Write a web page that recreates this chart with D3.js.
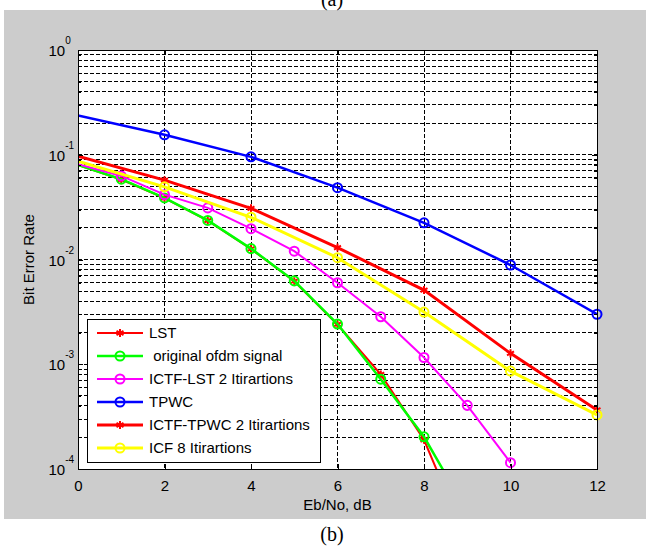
<!DOCTYPE html>
<html lang="en">
<head>
<meta charset="UTF-8">
<title>BER</title>
<script src="https://cdn.jsdelivr.net/npm/d3@7/dist/d3.min.js"></script>
<style>
  body { margin: 0; background: #fff; }
  text { font-family: "Liberation Sans", Arial, sans-serif; }
</style>
</head>
<body>
<script>
// Eb/No points (dB)
var ebnoUnit = [0, 1, 2, 3, 4, 5, 6, 7, 8, 9, 10];
var ebnoEven = [0, 2, 4, 6, 8, 10, 12];

// BER values
var lst      = [0.080, 0.058, 0.0385, 0.0235, 0.0126, 0.0062, 0.0024, 0.00080, 0.00019, 0.00002];
var ofdm     = [0.080, 0.0584, 0.0387, 0.0236, 0.0127, 0.00625, 0.00242, 0.00072, 0.000203, 0.000039];
var ictfLst  = [0.081, 0.0628, 0.0416, 0.0311, 0.0197, 0.0120, 0.0060, 0.00284, 0.00116, 0.000405, 0.000115];
var tpwc     = [0.237, 0.155, 0.0955, 0.0485, 0.0224, 0.00886, 0.0030];
var ictfTpwc = [0.097, 0.0572, 0.0308, 0.0130, 0.00511, 0.00127, 0.000366];
var icf8     = [0.087, 0.0494, 0.0253, 0.0104, 0.00315, 0.00086, 0.000328];

var xTicks = [0, 2, 4, 6, 8, 10, 12];
var yExp = [0, -1, -2, -3, -4];

var series = [
  {name: "LST", xs: ebnoUnit, ys: lst, color: "#ff0000", width: 2, marker: "star"},
  {name: " original ofdm signal", xs: ebnoUnit, ys: ofdm, color: "#00ff00", width: 2.5, marker: "circle"},
  {name: "ICTF-LST 2 Itirartions", xs: ebnoUnit, ys: ictfLst, color: "#ff00ff", width: 2, marker: "circle"},
  {name: "TPWC", xs: ebnoEven, ys: tpwc, color: "#0000ff", width: 2.5, marker: "circle"},
  {name: "ICTF-TPWC 2 Itirartions", xs: ebnoEven, ys: ictfTpwc, color: "#ff0000", width: 3, marker: "star"},
  {name: "ICF 8 Itirartions", xs: ebnoEven, ys: icf8, color: "#ffff00", width: 3, marker: "circle"}
];

var W = 646, H = 547;
var L = 78, R = 597, T = 50, B = 469;

var svg = d3.select("body").append("svg")
  .attr("width", W).attr("height", H);

// figure background
svg.append("rect").attr("x", 4).attr("y", 10).attr("width", W - 4).attr("height", 509)
  .attr("fill", "#cccccc");

svg.append("text").attr("x", 332).attr("y", 6).attr("text-anchor", "middle")
  .style("font-family", "'Liberation Serif', 'Times New Roman', serif")
  .style("font-size", "20px").text("(a)");
svg.append("text").attr("x", 332).attr("y", 541).attr("text-anchor", "middle")
  .style("font-family", "'Liberation Serif', 'Times New Roman', serif")
  .style("font-size", "20px").text("(b)");

var x = d3.scaleLinear().domain([0, 12]).range([L, R]);
var y = d3.scaleLog().domain([1e-4, 1]).range([B, T]);

svg.append("rect").attr("x", L).attr("y", T).attr("width", R - L).attr("height", B - T)
  .attr("fill", "#fff");

// grid
var minorVals = [];
for (var e = -4; e < 0; e++) {
  for (var k = 1; k < 10; k++) {
    if (!(e === -4 && k === 1)) minorVals.push(k * Math.pow(10, e));
  }
}
var grid = svg.append("g").attr("stroke", "#000").attr("stroke-width", 1)
  .attr("stroke-dasharray", "4,2").attr("shape-rendering", "crispEdges");
grid.selectAll("line.h").data(minorVals).enter().append("line")
  .attr("x1", L).attr("x2", R)
  .attr("y1", function (d) { return y(d); }).attr("y2", function (d) { return y(d); });
grid.selectAll("line.v").data(xTicks.slice(1, -1)).enter().append("line")
  .attr("y1", T).attr("y2", B)
  .attr("x1", function (d) { return x(d); }).attr("x2", function (d) { return x(d); });

// clip for lines
svg.append("clipPath").attr("id", "clip").append("rect")
  .attr("x", L).attr("y", T).attr("width", R - L).attr("height", B - T);

var line = d3.line()
  .x(function (d) { return x(d[0]); })
  .y(function (d) { return y(d[1]); });

var star = d3.symbol().type(d3.symbolAsterisk).size(45);
var circ = d3.symbol().type(d3.symbolCircle).size(64);

series.forEach(function (s) {
  var pts = s.ys.map(function (v, i) { return [s.xs[i], v]; });
  svg.append("path").datum(pts)
    .attr("clip-path", "url(#clip)")
    .attr("fill", "none").attr("stroke", s.color).attr("stroke-width", s.width)
    .attr("d", line);
  var mk = pts.filter(function (p, i) { return i > 0 && p[1] >= 1e-4; });
  svg.append("g").selectAll("path").data(mk).enter().append("path")
    .attr("transform", function (d) { return "translate(" + x(d[0]) + "," + y(d[1]) + ")"; })
    .attr("d", s.marker === "star" ? star : circ)
    .attr("fill", "none").attr("stroke", s.color)
    .attr("stroke-width", 2);
});

// axes box and ticks
var ax = svg.append("g").attr("shape-rendering", "crispEdges");
ax.append("g").attr("transform", "translate(0," + B + ")")
  .call(d3.axisBottom(x).tickValues(xTicks).tickSize(-5).tickPadding(11).tickFormat(d3.format("d")));
ax.append("g").attr("transform", "translate(0," + T + ")")
  .call(d3.axisTop(x).tickValues(xTicks).tickSize(-5).tickFormat(""));
var yMajor = yExp.map(function (p) { return Math.pow(10, p); });
ax.append("g").attr("transform", "translate(" + L + ",0)")
  .call(d3.axisLeft(y).tickValues(yMajor).tickSize(-5).tickFormat(""));
ax.append("g").attr("transform", "translate(" + R + ",0)")
  .call(d3.axisRight(y).tickValues(yMajor).tickSize(-5).tickFormat(""));
ax.append("g").attr("transform", "translate(" + L + ",0)")
  .call(d3.axisLeft(y).tickValues(minorVals).tickSize(-3).tickFormat(""));
ax.append("g").attr("transform", "translate(" + R + ",0)")
  .call(d3.axisRight(y).tickValues(minorVals).tickSize(-3).tickFormat(""));
ax.selectAll(".domain").remove();
ax.selectAll("text").style("font-size", "15px").attr("fill", "#000")
  .style("font-family", "'Liberation Sans', Arial, sans-serif");
ax.append("rect").attr("x", L).attr("y", T).attr("width", R - L).attr("height", B - T)
  .attr("fill", "none").attr("stroke", "#000");

// y tick labels 10^n
var yl = svg.append("g");
yExp.forEach(function (p) {
  var t = yl.append("text").attr("x", 48.5).attr("y", y(Math.pow(10, p)) + 6)
    .style("font-size", "15px");
  t.append("tspan").text("10");
  t.append("tspan").attr("dy", -12).style("font-size", "10px").text(p);
});

svg.append("text").attr("x", (L + R) / 2).attr("y", 510).attr("text-anchor", "middle")
  .style("font-size", "15px").text("Eb/No, dB");
svg.append("text").attr("transform", "translate(34," + (T + B) / 2 + ") rotate(-90)")
  .attr("text-anchor", "middle").style("font-size", "15px").text("Bit Error Rate");

// legend
var lg = svg.append("g");
lg.append("rect").attr("x", 87).attr("y", 319).attr("width", 233).attr("height", 143)
  .attr("fill", "#fff").attr("stroke", "#000").attr("shape-rendering", "crispEdges");
series.forEach(function (s, i) {
  var ly = 333 + i * 23;
  lg.append("line").attr("x1", 97).attr("x2", 143).attr("y1", ly).attr("y2", ly)
    .attr("stroke", s.color).attr("stroke-width", s.width);
  lg.append("path").attr("transform", "translate(120," + ly + ")")
    .attr("d", s.marker === "star" ? star : circ)
    .attr("fill", "none").attr("stroke", s.color)
    .attr("stroke-width", 2);
  lg.append("text").attr("x", 149).attr("y", ly).attr("dy", "0.36em")
    .style("font-size", "15px").style("white-space", "pre").text(s.name);
});
</script>
</body>
</html>
